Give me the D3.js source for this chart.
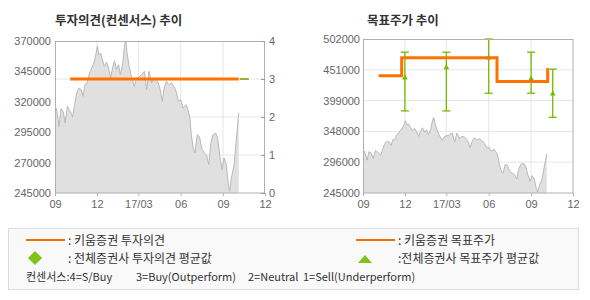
<!DOCTYPE html>
<html>
<head>
<meta charset="utf-8">
<script src="https://cdn.jsdelivr.net/npm/d3@7"></script>
<style>
  body { margin: 0; background: #fff; }
  svg { display: block; }
  .tick text { font-family: "Liberation Sans", Arial, sans-serif; font-size: 11px; fill: #666; }
</style>
</head>
<body>
<div id="chart"></div>
<script>
// price (종가)
var priceDates = ["2016-09-01","2016-09-04","2016-09-10","2016-09-14","2016-09-19","2016-09-23","2016-09-28","2016-10-02","2016-10-06","2016-10-09",
  "2016-10-13","2016-10-18","2016-10-23","2016-10-28","2016-11-01","2016-11-05","2016-11-10","2016-11-14","2016-11-18","2016-11-23",
  "2016-11-27","2016-12-02","2016-12-05","2016-12-09","2016-12-13","2016-12-17","2016-12-22","2016-12-26","2016-12-31","2017-01-04",
  "2017-01-08","2017-01-13","2017-01-17","2017-01-21","2017-01-26","2017-01-30","2017-02-02","2017-02-04","2017-02-09","2017-02-13",
  "2017-02-20","2017-02-25","2017-03-01","2017-03-08","2017-03-14","2017-03-19","2017-03-24","2017-03-30","2017-04-04","2017-04-10",
  "2017-04-16","2017-04-22","2017-04-26","2017-05-01","2017-05-06","2017-05-12","2017-05-19","2017-05-23","2017-05-27","2017-06-01",
  "2017-06-06","2017-06-13","2017-06-17","2017-06-21","2017-06-24","2017-06-28","2017-07-02","2017-07-07","2017-07-12","2017-07-16",
  "2017-07-22","2017-07-27","2017-08-01","2017-08-05","2017-08-10","2017-08-16","2017-08-20","2017-08-25","2017-08-30","2017-09-03",
  "2017-09-08","2017-09-12","2017-09-15","2017-09-19","2017-09-25","2017-09-28","2017-10-02","2017-10-05"];
var priceValues = [313500,314900,299800,314300,311600,302600,316300,313500,310800,307300,
  316300,327200,331400,330000,324500,334100,335500,342300,346400,350500,
  355400,365600,358700,360100,354700,349200,352700,347800,339600,347800,
  353800,346400,350500,342300,351100,367000,371000,361500,349200,342300,
  332700,339600,340100,342300,345100,330000,345100,335500,339600,338200,
  332700,320400,331400,336800,334100,335500,331400,327200,320400,321700,
  314900,317600,313200,306700,293000,282000,277900,293000,291000,282000,
  277900,276000,268300,284700,293000,294300,290000,275200,264200,273800,
  268300,253200,246400,257300,268300,282000,298500,310800];

// 투자의견 (키움증권) and consensus
var opinionDates = ["2016-10-04","2017-10-05"];
var opinionValues = [3, 3];
var consOpinionDates = ["2017-10-07","2017-10-27"];
var consOpinionValues = [3, 3];

// 목표주가 (키움증권)
var targetDates = ["2016-10-05","2016-11-24","2017-06-19","2017-10-07","2017-10-09"];
var targetValues = [440500, 470700, 431000, 451000, 451000];

// 전체증권사 목표주가: high / low / average
var consDates = ["2016-12-01","2017-03-01","2017-06-01","2017-09-01","2017-10-18"];
var consHigh = [480000, 480000, 502000, 480000, 451700];
var consLow = [382000, 382000, 411500, 411500, 371300];
var consAvg = [435500, 452700, 469000, 433800, 408700];

// axes
var monthTicks = ["2016-09-01","2016-12-01","2017-03-01","2017-06-01","2017-09-01","2017-12-01"];
var monthLabels = ["09","12","17/03","06","09","12"];
var priceTicks = [245000, 270000, 295000, 320000, 345000, 370000];
var opinionTicks = [0, 1, 2, 3, 4];
var targetTicks = [245000, 296400, 347800, 399200, 450600, 502000];

var parse = d3.timeParse("%Y-%m-%d");
var orange = "#ff7200";
var green = "#77b800";
var gridColor = "#e6e6e6";
var frameColor = "#b0b0b0";
var krFont = "'Noto Sans CJK KR', 'Noto Sans', sans-serif";

var svg = d3.select("#chart").append("svg")
  .attr("width", 590)
  .attr("height", 300);

var prices = priceDates.map(function (d, i) { return { date: parse(d), value: priceValues[i] }; });
var xDomain = [parse(monthTicks[0]), parse(monthTicks[monthTicks.length - 1])];
var tickDates = monthTicks.map(parse);

svg.append("defs").append("clipPath").attr("id", "clipL")
  .append("rect").attr("x", 55).attr("y", 41).attr("width", 210).attr("height", 152);
svg.select("defs").append("clipPath").attr("id", "clipR")
  .append("rect").attr("x", 363).attr("y", 39).attr("width", 210).attr("height", 154);

function xAxis(g, x) {
  g.call(d3.axisBottom(x).tickValues(tickDates)
      .tickFormat(function (d, i) { return monthLabels[i]; })
      .tickSize(3).tickPadding(4));
  g.select(".domain").remove();
  g.selectAll(".tick line").attr("stroke", frameColor);
}

// ---------- left: 투자의견 ----------
var xL = d3.scaleTime().domain(xDomain).range([55, 265]);
var yL = d3.scaleLinear().domain([245000, 370000]).range([193, 41]);
var yO = d3.scaleLinear().domain([0, 4]).range([193, 41]);

svg.append("text").attr("x", 55).attr("y", 25)
  .attr("font-family", krFont).attr("font-size", "12.5px").attr("font-weight", "bold")
  .attr("fill", "#333").text("투자의견(컨센서스) 추이");

var left = svg.append("g");

left.append("g").selectAll("line")
  .data(tickDates.slice(1, -1)).enter().append("line")
  .attr("x1", function (d) { return xL(d); }).attr("x2", function (d) { return xL(d); })
  .attr("y1", 41).attr("y2", 193).attr("stroke", gridColor);
left.append("g").selectAll("line")
  .data(opinionTicks.slice(1, -1)).enter().append("line")
  .attr("x1", 55).attr("x2", 265)
  .attr("y1", function (d) { return yO(d); }).attr("y2", function (d) { return yO(d); })
  .attr("stroke", gridColor);

left.append("path").datum(prices)
  .attr("clip-path", "url(#clipL)")
  .attr("fill", "#e0e0e0")
  .attr("d", d3.area().x(function (d) { return xL(d.date); }).y0(193).y1(function (d) { return yL(d.value); }));
left.append("path").datum(prices)
  .attr("clip-path", "url(#clipL)")
  .attr("fill", "none").attr("stroke", "#b9b9b9").attr("stroke-width", 1)
  .attr("d", d3.line().x(function (d) { return xL(d.date); }).y(function (d) { return yL(d.value); }));

var lineO = d3.line().x(function (d) { return xL(d.date); }).y(function (d) { return yO(d.value); });
left.append("path")
  .datum(opinionDates.map(function (d, i) { return { date: parse(d), value: opinionValues[i] }; }))
  .attr("fill", "none").attr("stroke", orange).attr("stroke-width", 3).attr("d", lineO);
left.append("path")
  .datum(consOpinionDates.map(function (d, i) { return { date: parse(d), value: consOpinionValues[i] }; }))
  .attr("fill", "none").attr("stroke", "#8ab63a").attr("stroke-width", 2).attr("d", lineO);

left.append("rect").attr("x", 55.5).attr("y", 41.5).attr("width", 209).attr("height", 151.5)
  .attr("fill", "none").attr("stroke", frameColor);

var axL = left.append("g").attr("transform", "translate(55,0)")
  .call(d3.axisLeft(yL).tickValues(priceTicks).tickFormat(d3.format("d")).tickSize(0).tickPadding(4));
axL.select(".domain").remove();

var axO = left.append("g").attr("transform", "translate(265,0)")
  .call(d3.axisRight(yO).tickValues(opinionTicks).tickFormat(d3.format("d")).tickSize(-4).tickPadding(4));
axO.select(".domain").remove();
axO.selectAll(".tick line").attr("stroke", "#999");

left.append("g").attr("transform", "translate(0,193)").call(xAxis, xL);

// ---------- right: 목표주가 ----------
var xR = d3.scaleTime().domain(xDomain).range([363, 573]);
var yR = d3.scaleLinear().domain([245000, 502000]).range([193, 39]);

svg.append("text").attr("x", 367).attr("y", 25)
  .attr("font-family", krFont).attr("font-size", "12.5px").attr("font-weight", "bold")
  .attr("fill", "#333").text("목표주가 추이");

var right = svg.append("g");

right.append("g").selectAll("line")
  .data(tickDates.slice(1, -1)).enter().append("line")
  .attr("x1", function (d) { return xR(d); }).attr("x2", function (d) { return xR(d); })
  .attr("y1", 39).attr("y2", 193).attr("stroke", gridColor);
right.append("g").selectAll("line")
  .data(targetTicks.slice(1, -1)).enter().append("line")
  .attr("x1", 363).attr("x2", 573)
  .attr("y1", function (d) { return yR(d); }).attr("y2", function (d) { return yR(d); })
  .attr("stroke", gridColor);

right.append("path").datum(prices)
  .attr("clip-path", "url(#clipR)")
  .attr("fill", "#e0e0e0")
  .attr("d", d3.area().x(function (d) { return xR(d.date); }).y0(193).y1(function (d) { return yR(d.value); }));
right.append("path").datum(prices)
  .attr("clip-path", "url(#clipR)")
  .attr("fill", "none").attr("stroke", "#b9b9b9").attr("stroke-width", 1)
  .attr("d", d3.line().x(function (d) { return xR(d.date); }).y(function (d) { return yR(d.value); }));

var cons = consDates.map(function (d, i) {
  return { date: parse(d), hi: consHigh[i], lo: consLow[i], avg: consAvg[i] };
});
var bars = right.append("g").selectAll("g").data(cons).enter().append("g")
  .attr("stroke", green).attr("stroke-width", 1.3);
bars.append("line")
  .attr("x1", function (d) { return xR(d.date); }).attr("x2", function (d) { return xR(d.date); })
  .attr("y1", function (d) { return yR(d.hi); }).attr("y2", function (d) { return yR(d.lo); });
bars.append("line")
  .attr("x1", function (d) { return xR(d.date) - 4; }).attr("x2", function (d) { return xR(d.date) + 4; })
  .attr("y1", function (d) { return yR(d.hi); }).attr("y2", function (d) { return yR(d.hi); });
bars.append("line")
  .attr("x1", function (d) { return xR(d.date) - 4; }).attr("x2", function (d) { return xR(d.date) + 4; })
  .attr("y1", function (d) { return yR(d.lo); }).attr("y2", function (d) { return yR(d.lo); });
right.append("g").selectAll("path").data(cons).enter().append("path")
  .attr("d", d3.symbol(d3.symbolTriangle, 14))
  .attr("transform", function (d) { return "translate(" + xR(d.date) + "," + (yR(d.avg) - 1) + ")"; })
  .attr("fill", green);

right.append("path")
  .datum(targetDates.map(function (d, i) { return { date: parse(d), value: targetValues[i] }; }))
  .attr("fill", "none").attr("stroke", orange).attr("stroke-width", 3)
  .attr("d", d3.line().curve(d3.curveStepAfter)
    .x(function (d) { return xR(d.date); }).y(function (d) { return yR(d.value); }));

right.append("rect").attr("x", 363.5).attr("y", 39.5).attr("width", 209.5).attr("height", 153.5)
  .attr("fill", "none").attr("stroke", frameColor);

var axT = right.append("g").attr("transform", "translate(363,0)")
  .call(d3.axisLeft(yR).tickValues(targetTicks)
    .tickFormat(function (d) { return Math.round(d / 1000) * 1000; })
    .tickSize(0).tickPadding(3));
axT.select(".domain").remove();

right.append("g").attr("transform", "translate(0,193)").call(xAxis, xR);

// ---------- legend ----------
var legend = svg.append("g");
legend.append("rect").attr("x", 8.5).attr("y", 228.5).attr("width", 570).attr("height", 61)
  .attr("fill", "#f9f9f9").attr("stroke", "#dcdcdc");

var legendItems = [
  { x: 26, y: 240, mark: "line", label: ": 키움증권 투자의견" },
  { x: 26, y: 258, mark: "diamond", label: ": 전체증권사 투자의견 평균값" },
  { x: 356, y: 240, mark: "line", label: ": 키움증권 목표주가" },
  { x: 356, y: 258, mark: "triangle", label: ":전체증권사 목표주가 평균값" }
];
legendItems.forEach(function (d) {
  if (d.mark === "line") {
    legend.append("line").attr("x1", d.x).attr("x2", d.x + 39).attr("y1", d.y).attr("y2", d.y)
      .attr("stroke", "#f07000").attr("stroke-width", 2);
  } else if (d.mark === "diamond") {
    legend.append("rect").attr("x", -5).attr("y", -5).attr("width", 10).attr("height", 10)
      .attr("transform", "translate(" + (d.x + 9) + "," + d.y + ") rotate(45)")
      .attr("fill", "#80c21a");
  } else {
    legend.append("path").attr("d", "M-7,4L0,-4L7,4Z")
      .attr("transform", "translate(" + (d.x + 9) + "," + (d.y + 1) + ")")
      .attr("fill", "#80c21a");
  }
  legend.append("text").attr("x", d.x + 42).attr("y", d.y + 5)
    .attr("font-family", krFont).attr("font-size", "12px").attr("fill", "#333")
    .text(d.label);
});

var consensusText = [
  { x: 26, t: "컨센서스:4=S/Buy" },
  { x: 136, t: "3=Buy(Outperform)" },
  { x: 248, t: "2=Neutral" },
  { x: 303, t: "1=Sell(Underperform)" }
];
legend.selectAll("text.cons").data(consensusText).enter().append("text")
  .attr("class", "cons")
  .attr("x", function (d) { return d.x; }).attr("y", 281)
  .attr("font-family", krFont).attr("font-size", "11px").attr("fill", "#333")
  .text(function (d) { return d.t; });
</script>
</body>
</html>
